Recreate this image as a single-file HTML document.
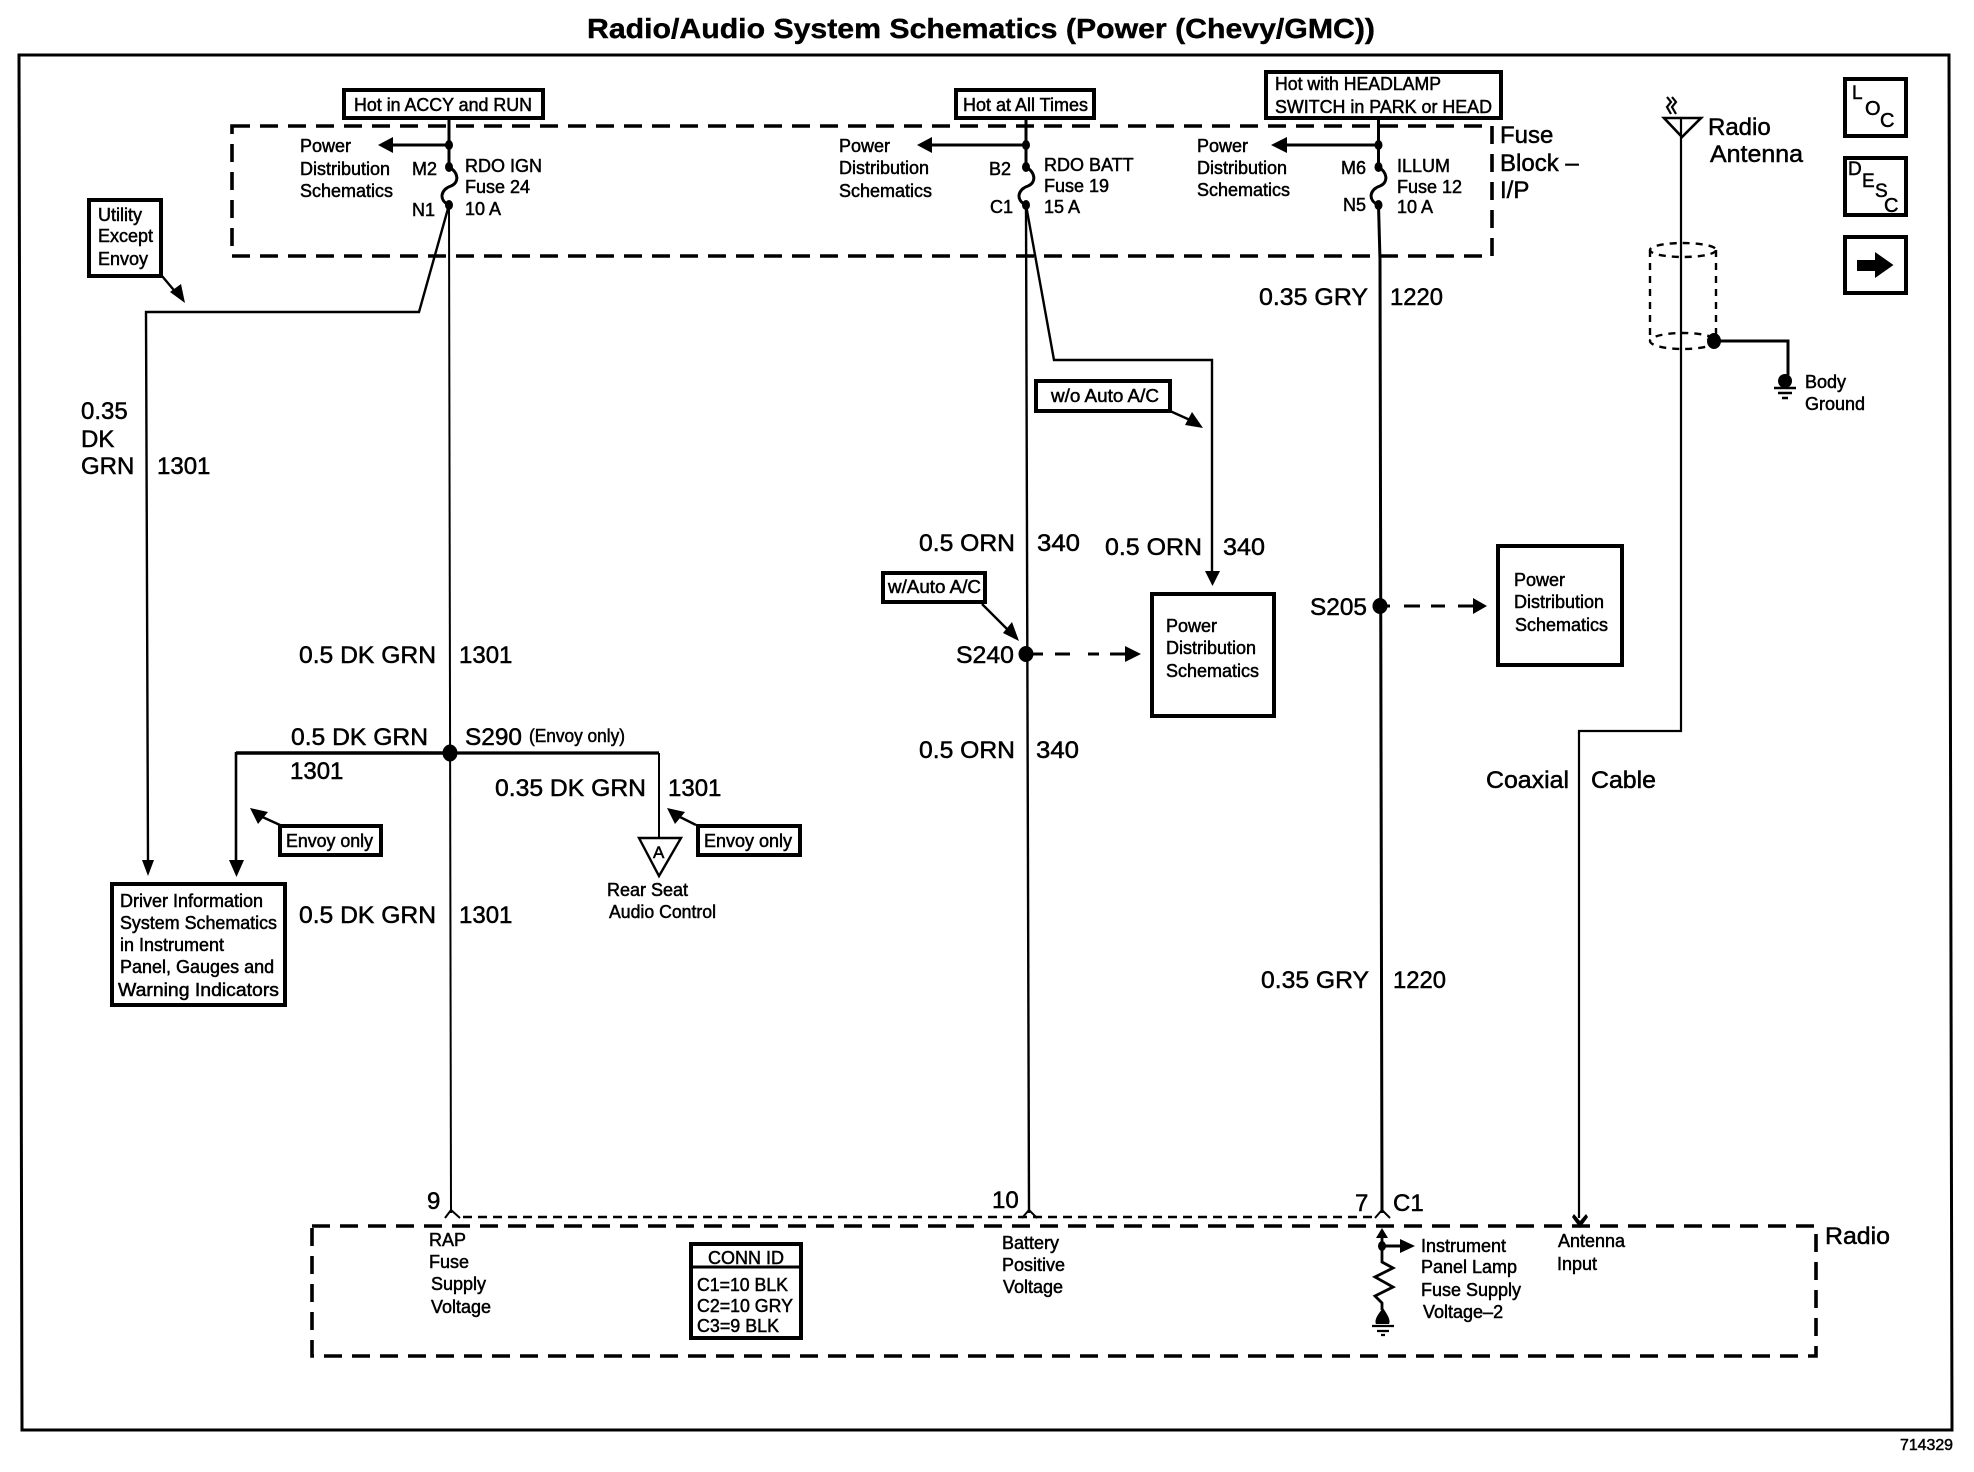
<!DOCTYPE html>
<html><head><meta charset="utf-8"><title>Radio/Audio System Schematics</title>
<style>
html,body{margin:0;padding:0;background:#fff}
svg{display:block}
text{font-family:"Liberation Sans",Arial,sans-serif;fill:#000;stroke:#000;stroke-width:.5}
.w{font-size:24px}.s{font-size:18px}
.t{font-size:28px;font-weight:bold;stroke-width:.4}
.n{fill:none;stroke:#000}
.f{fill:#000;stroke:none}
.b{fill:#fff;stroke:#000;stroke-width:4}
</style></head><body>
<svg width="1974" height="1472" viewBox="0 0 1974 1472" xmlns="http://www.w3.org/2000/svg">
<rect width="1974" height="1472" fill="#fff"/>
<text class="t" x="587" y="38" textLength="788" lengthAdjust="spacingAndGlyphs">Radio/Audio System Schematics (Power (Chevy/GMC))</text>
<polygon class="n" stroke-width="3" points="19,55 1949,55 1952,1430 22,1430"/>

<!-- dashed enclosures -->
<rect class="n" x="232" y="126" width="1260" height="130" stroke-width="3.6" stroke-dasharray="18 10"/>
<rect class="n" x="312" y="1226" width="1504" height="130" stroke-width="3.6" stroke-dasharray="18 10"/>
<line class="n" x1="463" y1="1217" x2="1377" y2="1217" stroke-width="2.4" stroke-dasharray="9 6"/>

<!-- wire 1 -->
<path class="n" stroke-width="3" d="M449 118V167C458 172 460 182 451 186C441 189 438 200 449 205"/>
<path class="n" stroke-width="2" d="M449 205L451 1213"/>
<path class="n" stroke-width="2" d="M445 1218L451 1210L460 1218"/>
<path class="n" stroke-width="2.4" d="M449 205L419 312H146L148 862"/>
<polygon class="f" points="142,860 154,860 148,876"/>
<path class="n" stroke-width="3" d="M449 145H390"/><polygon class="f" points="378,145 393,137 393,153"/>
<ellipse class="f" cx="449" cy="145" rx="4" ry="5"/><ellipse class="f" cx="449" cy="167" rx="4" ry="5"/><ellipse class="f" cx="449" cy="205" rx="4" ry="5"/>

<!-- wire 2 -->
<path class="n" stroke-width="3" d="M1026 118V167C1035 172 1037 182 1028 186C1018 189 1015 200 1026 205"/>
<path class="n" stroke-width="2.4" d="M1026 205L1029 1213"/>
<path class="n" stroke-width="2" d="M1022 1218L1029 1210L1037 1218"/>
<path class="n" stroke-width="2.4" d="M1026 205L1054 360H1212V573"/>
<polygon class="f" points="1205,571 1220,571 1212.5,586"/>
<path class="n" stroke-width="3" d="M1026 145H930"/><polygon class="f" points="917,145 932,137 932,153"/>
<ellipse class="f" cx="1026" cy="145" rx="4" ry="5"/><ellipse class="f" cx="1026" cy="167" rx="4" ry="5"/><ellipse class="f" cx="1026" cy="205" rx="4" ry="5"/>

<!-- wire 3 -->
<path class="n" stroke-width="3" d="M1378.5 118V167C1387 172 1389 182 1380 186C1370 189 1367 200 1378.5 205L1380 260L1382 1213"/>
<path class="n" stroke-width="2" d="M1375 1218L1382 1210L1390 1218"/>
<path class="n" stroke-width="3" d="M1378.5 145H1285"/><polygon class="f" points="1271,145 1287,137 1287,153"/>
<ellipse class="f" cx="1378.5" cy="145" rx="4" ry="5"/><ellipse class="f" cx="1378.5" cy="167" rx="4" ry="5"/><ellipse class="f" cx="1378.5" cy="205" rx="4" ry="5"/>

<!-- S290 branches -->
<path class="n" stroke-width="3.4" d="M450 753H236"/><path class="n" stroke-width="2.6" d="M236 752V862"/><polygon class="f" points="229,860 244,860 236.5,877"/>
<path class="n" stroke-width="3.2" d="M450 753H659"/><path class="n" stroke-width="2" d="M659 753V838"/>
<ellipse class="f" cx="450" cy="753" rx="7.5" ry="8.5"/>
<polygon fill="#fff" stroke="#000" stroke-width="2.4" points="639,838 681,838 659,876"/>

<!-- S240 / S205 dashed -->
<ellipse class="f" cx="1026" cy="654" rx="7.5" ry="8"/>
<path class="n" stroke-width="3" d="M1030 654H1043M1055 654H1070M1088 654H1099M1110 654H1127"/><polygon class="f" points="1141,654 1125,646 1125,662"/>
<ellipse class="f" cx="1380" cy="606" rx="7.5" ry="8"/>
<path class="n" stroke-width="3" d="M1384 606H1390M1404 606H1420M1431 606H1445M1458 606H1475"/><polygon class="f" points="1487,606 1473,598 1473,614"/>

<!-- annotation boxes -->
<rect class="b" x="344" y="90" width="199" height="28"/>
<rect class="b" x="956" y="90" width="138" height="28"/>
<rect class="b" x="1266" y="72" width="235" height="46"/>
<rect class="b" x="89" y="200" width="72" height="76"/>
<rect class="b" x="1036" y="381" width="134" height="30"/>
<rect class="b" x="883" y="573" width="102" height="29"/>
<rect class="b" x="280" y="826" width="101" height="29"/>
<rect class="b" x="698" y="826" width="102" height="29"/>
<rect class="b" x="112" y="884" width="173" height="121"/>
<rect class="b" x="1152" y="594" width="122" height="122"/>
<rect class="b" x="1498" y="546" width="124" height="119"/>
<rect class="b" x="691" y="1244" width="110" height="94"/>
<path class="n" stroke-width="3" d="M691 1267H801"/>
<rect class="b" x="1845" y="79" width="61" height="57"/>
<rect class="b" x="1845" y="158" width="61" height="57"/>
<rect class="b" x="1845" y="237" width="61" height="56"/>
<polygon class="f" points="1857,260 1875,260 1875,252 1893.5,265 1875,278 1875,271 1857,271"/>

<!-- annotation arrows -->
<path class="n" stroke-width="2.4" d="M162 276L178 295"/><polygon class="f" points="185,303 170,292 181,284"/>
<path class="n" stroke-width="2.4" d="M1170 411L1190 420"/><polygon class="f" points="1203,428 1185,425 1192,412"/>
<path class="n" stroke-width="2.4" d="M982 604L1012 634"/><polygon class="f" points="1019,641 1003,633 1012,622"/>
<path class="n" stroke-width="2.4" d="M280 825L258 815"/><polygon class="f" points="250,808 268,812 258,824"/>
<path class="n" stroke-width="2.4" d="M696 825L676 815"/><polygon class="f" points="667,808 685,812 675,824"/>

<!-- antenna -->
<polygon class="n" stroke-width="2.6" points="1664,118 1701,118 1682,137"/>
<path class="n" stroke-width="2.2" d="M1667 97L1671 102L1667 107L1671 114M1672 97L1676 102L1672 107L1676 114"/>
<path class="n" stroke-width="2.2" d="M1681 118V731H1579V1218"/>
<path class="f" d="M1574 1214L1580 1221L1586 1214L1588 1217L1580 1228L1572 1217Z"/>
<g class="n" stroke-width="2.4" stroke-dasharray="7 6" fill="none">
<ellipse cx="1683" cy="250" rx="33" ry="7"/>
<ellipse cx="1683" cy="341" rx="33" ry="8"/>
<path d="M1650 250V341M1716 250V341"/>
</g>
<ellipse class="f" cx="1714" cy="341" rx="7" ry="8"/>
<path class="n" stroke-width="3" d="M1714 341H1788V375"/>
<ellipse class="f" cx="1785" cy="381" rx="7" ry="7"/>
<path class="n" stroke-width="2.4" d="M1774 388H1796M1778 393H1792M1782 398H1788"/>

<!-- radio internals -->
<polygon class="f" points="1382,1228 1376,1238 1388,1238"/>
<path class="n" stroke-width="2.8" d="M1382 1232V1262L1393 1268L1375 1277L1393 1287L1375 1296L1382 1303V1310"/>
<ellipse class="f" cx="1382" cy="1246" rx="4" ry="5"/>
<path class="n" stroke-width="3" d="M1382 1246H1402"/><polygon class="f" points="1415,1246 1400,1239 1400,1253"/>
<path class="f" d="M1383 1308C1387 1314 1391 1320 1389 1324H1376C1374 1320 1378 1314 1383 1308Z"/>
<path class="n" stroke-width="2.2" d="M1372 1326H1394M1377 1331H1389M1381 1335H1385"/>

<!-- box labels -->
<g class="s">
<text x="354" y="111" textLength="178" lengthAdjust="spacingAndGlyphs">Hot in ACCY and RUN</text>
<text x="963" y="111" textLength="125" lengthAdjust="spacingAndGlyphs">Hot at All Times</text>
<text x="1275" y="90" textLength="166" lengthAdjust="spacingAndGlyphs">Hot with HEADLAMP</text>
<text x="1275" y="113" textLength="217" lengthAdjust="spacingAndGlyphs">SWITCH in PARK or HEAD</text>
<text x="98" y="221">Utility</text><text x="98" y="242">Except</text><text x="98" y="265">Envoy</text>
<text x="1051" y="402" textLength="108" lengthAdjust="spacingAndGlyphs">w/o Auto A/C</text>
<text x="888" y="593" textLength="93" lengthAdjust="spacingAndGlyphs">w/Auto A/C</text>
<text x="286" y="847" textLength="87" lengthAdjust="spacingAndGlyphs">Envoy only</text>
<text x="704" y="847" textLength="88" lengthAdjust="spacingAndGlyphs">Envoy only</text>
<text x="529" y="742" textLength="96" lengthAdjust="spacingAndGlyphs">(Envoy only)</text>
<text x="120" y="907">Driver Information</text>
<text x="120" y="929" textLength="157" lengthAdjust="spacingAndGlyphs">System Schematics</text>
<text x="120" y="951">in Instrument</text>
<text x="120" y="973">Panel, Gauges and</text>
<text x="118" y="996" textLength="161" lengthAdjust="spacingAndGlyphs">Warning Indicators</text>

<text x="300" y="152">Power</text><text x="300" y="175">Distribution</text><text x="300" y="197">Schematics</text>
<text x="839" y="152">Power</text><text x="839" y="174">Distribution</text><text x="839" y="197">Schematics</text>
<text x="1197" y="152">Power</text><text x="1197" y="174">Distribution</text><text x="1197" y="196">Schematics</text>
<text x="1166" y="632">Power</text><text x="1166" y="654">Distribution</text><text x="1166" y="677">Schematics</text>
<text x="1514" y="586">Power</text><text x="1514" y="608">Distribution</text><text x="1515" y="631">Schematics</text>

<text x="412" y="175">M2</text><text x="412" y="216">N1</text>
<text x="465" y="172">RDO IGN</text><text x="465" y="193">Fuse 24</text><text x="465" y="215">10 A</text>
<text x="989" y="175">B2</text><text x="990" y="213">C1</text>
<text x="1044" y="171">RDO BATT</text><text x="1044" y="192">Fuse 19</text><text x="1044" y="213">15 A</text>
<text x="1341" y="174">M6</text><text x="1343" y="211">N5</text>
<text x="1397" y="172">ILLUM</text><text x="1397" y="193">Fuse 12</text><text x="1397" y="213">10 A</text>

<text x="1805" y="388">Body</text><text x="1805" y="410">Ground</text>
<text x="653" y="858" style="font-size:17px">A</text>
<text x="607" y="896">Rear Seat</text><text x="609" y="918" textLength="107" lengthAdjust="spacingAndGlyphs">Audio Control</text>

<text x="429" y="1246">RAP</text><text x="429" y="1268">Fuse</text><text x="431" y="1290">Supply</text><text x="431" y="1313">Voltage</text>
<text x="708" y="1264" textLength="76" lengthAdjust="spacingAndGlyphs">CONN ID</text>
<text x="697" y="1291" textLength="91" lengthAdjust="spacingAndGlyphs">C1=10 BLK</text>
<text x="697" y="1312" textLength="96" lengthAdjust="spacingAndGlyphs">C2=10 GRY</text>
<text x="697" y="1332" textLength="82" lengthAdjust="spacingAndGlyphs">C3=9 BLK</text>
<text x="1002" y="1249">Battery</text><text x="1002" y="1271">Positive</text><text x="1003" y="1293">Voltage</text>
<text x="1421" y="1252">Instrument</text><text x="1421" y="1273">Panel Lamp</text><text x="1421" y="1296">Fuse Supply</text><text x="1423" y="1318">Voltage–2</text>
<text x="1558" y="1247">Antenna</text><text x="1557" y="1270">Input</text>
</g>

<!-- wire labels -->
<g class="w">
<text x="81" y="419">0.35</text><text x="81" y="447">DK</text><text x="81" y="474">GRN</text><text x="157" y="474">1301</text>
<text x="299" y="663" textLength="137" lengthAdjust="spacingAndGlyphs">0.5 DK GRN</text><text x="459" y="663">1301</text>
<text x="291" y="745" textLength="137" lengthAdjust="spacingAndGlyphs">0.5 DK GRN</text><text x="465" y="745" textLength="57" lengthAdjust="spacingAndGlyphs">S290</text>
<text x="290" y="779">1301</text>
<text x="495" y="796" textLength="151" lengthAdjust="spacingAndGlyphs">0.35 DK GRN</text><text x="668" y="796">1301</text>
<text x="299" y="923" textLength="137" lengthAdjust="spacingAndGlyphs">0.5 DK GRN</text><text x="459" y="923">1301</text>
<text x="919" y="551" textLength="96" lengthAdjust="spacingAndGlyphs">0.5 ORN</text><text x="1037" y="551" textLength="43" lengthAdjust="spacingAndGlyphs">340</text>
<text x="919" y="758" textLength="96" lengthAdjust="spacingAndGlyphs">0.5 ORN</text><text x="1036" y="758" textLength="43" lengthAdjust="spacingAndGlyphs">340</text>
<text x="1105" y="555" textLength="97" lengthAdjust="spacingAndGlyphs">0.5 ORN</text><text x="1223" y="555" textLength="42" lengthAdjust="spacingAndGlyphs">340</text>
<text x="956" y="663" textLength="58" lengthAdjust="spacingAndGlyphs">S240</text>
<text x="1310" y="615" textLength="57" lengthAdjust="spacingAndGlyphs">S205</text>
<text x="1259" y="305" textLength="109" lengthAdjust="spacingAndGlyphs">0.35 GRY</text><text x="1390" y="305" textLength="53" lengthAdjust="spacingAndGlyphs">1220</text>
<text x="1261" y="988" textLength="108" lengthAdjust="spacingAndGlyphs">0.35 GRY</text><text x="1393" y="988" textLength="53" lengthAdjust="spacingAndGlyphs">1220</text>
<text x="1486" y="788" textLength="83" lengthAdjust="spacingAndGlyphs">Coaxial</text><text x="1591" y="788" textLength="65" lengthAdjust="spacingAndGlyphs">Cable</text>
<text x="1500" y="143">Fuse</text><text x="1500" y="171">Block –</text><text x="1500" y="198">I/P</text>
<text x="1708" y="135">Radio</text><text x="1710" y="162" textLength="93" lengthAdjust="spacingAndGlyphs">Antenna</text>
<text x="427" y="1209">9</text><text x="992" y="1208">10</text><text x="1355" y="1211">7</text><text x="1393" y="1211">C1</text>
<text x="1825" y="1244" textLength="65" lengthAdjust="spacingAndGlyphs">Radio</text>
<text x="1852" y="99" style="font-size:19px">L</text><text x="1865" y="115" style="font-size:20px">O</text><text x="1880" y="127" style="font-size:20px">C</text>
<text x="1848" y="175" style="font-size:19px">D</text><text x="1862" y="187" style="font-size:19px">E</text><text x="1875" y="197" style="font-size:19px">S</text><text x="1884" y="212" style="font-size:20px">C</text>
</g>
<text x="1900" y="1450" style="font-size:16px" textLength="53" lengthAdjust="spacingAndGlyphs">714329</text>
</svg>
</body></html>
